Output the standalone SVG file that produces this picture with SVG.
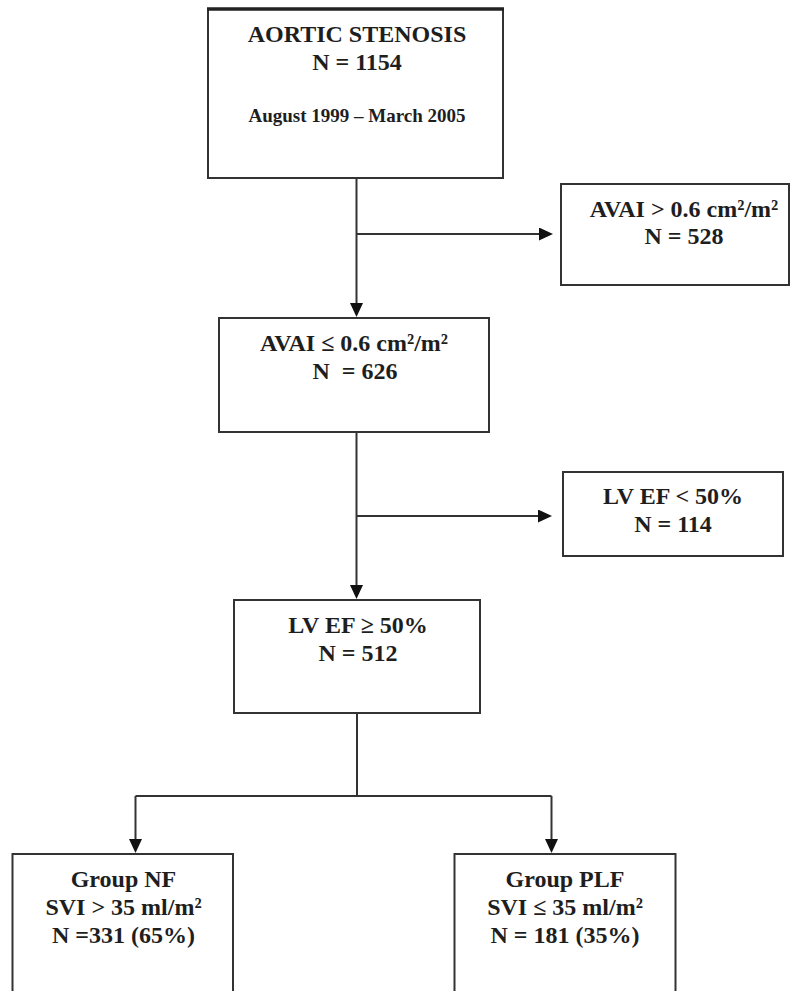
<svg xmlns="http://www.w3.org/2000/svg" width="792" height="991" viewBox="0 0 792 991">
<style>
.box{fill:#fff;stroke:#333;stroke-width:2}
.t{font-family:"Liberation Serif","Times New Roman",serif;font-weight:bold;font-size:24px;fill:#1e1e1e;text-anchor:middle;white-space:pre}
.s{font-size:19px}
.c{fill:none;stroke:#333;stroke-width:2}
</style>
<defs>
<marker id="ah" markerWidth="14" markerHeight="13" refX="10" refY="6.5" orient="auto" markerUnits="userSpaceOnUse">
<path d="M0,0 L14,6.5 L0,13 z" fill="#111"/>
</marker>
</defs>
<rect width="792" height="991" fill="#fff"/>
<g id="connectors">
<path class="c" d="M356.5,178 V313" marker-end="url(#ah)"/>
<path class="c" d="M356.5,234 H549" marker-end="url(#ah)"/>
<path class="c" d="M356.5,432 V595" marker-end="url(#ah)"/>
<path class="c" d="M356.5,516 H548" marker-end="url(#ah)"/>
<path class="c" d="M357,713 V796"/>
<path class="c" d="M135.5,796 H551.5"/>
<path class="c" d="M135.5,796 V849" marker-end="url(#ah)"/>
<path class="c" d="M551.5,796 V849" marker-end="url(#ah)"/>
</g>
<g id="aortic-stenosis">
<rect class="box" x="208" y="9" width="295" height="169"/>
<line x1="207" y1="9" x2="504" y2="9" stroke="#222" stroke-width="3.5"/>
<text class="t" x="357" y="42">AORTIC STENOSIS</text>
<text class="t" x="357" y="70">N = 1154</text>
<text class="t s" x="357" y="122">August 1999 – March 2005</text>
</g>
<g id="avai-high">
<rect class="box" x="561" y="184" width="228" height="101"/>
<text class="t" x="684" y="217">AVAI &gt; 0.6 cm²/m²</text>
<text class="t" x="684" y="244">N = 528</text>
</g>
<g id="avai-low">
<rect class="box" x="219" y="318" width="270" height="114"/>
<text class="t" x="354" y="351">AVAI ≤ 0.6 cm²/m²</text>
<text class="t" x="355" y="379">N  = 626</text>
</g>
<g id="lvef-low">
<rect class="box" x="563" y="472" width="220" height="84"/>
<text class="t" x="673" y="504">LV EF &lt; 50%</text>
<text class="t" x="673" y="532">N = 114</text>
</g>
<g id="lvef-high">
<rect class="box" x="234" y="600" width="246" height="113"/>
<text class="t" x="358" y="633">LV EF ≥ 50%</text>
<text class="t" x="358" y="661">N = 512</text>
</g>
<g id="group-nf">
<rect class="box" x="12.5" y="854" width="220.5" height="150"/>
<text class="t" x="123.5" y="887">Group NF</text>
<text class="t" x="123.5" y="915">SVI &gt; 35 ml/m²</text>
<text class="t" x="123.5" y="943">N =331 (65%)</text>
</g>
<g id="group-plf">
<rect class="box" x="454.5" y="854" width="221" height="150"/>
<text class="t" x="565" y="887">Group PLF</text>
<text class="t" x="565" y="915">SVI ≤ 35 ml/m²</text>
<text class="t" x="565" y="943">N = 181 (35%)</text>
</g>
</svg>
